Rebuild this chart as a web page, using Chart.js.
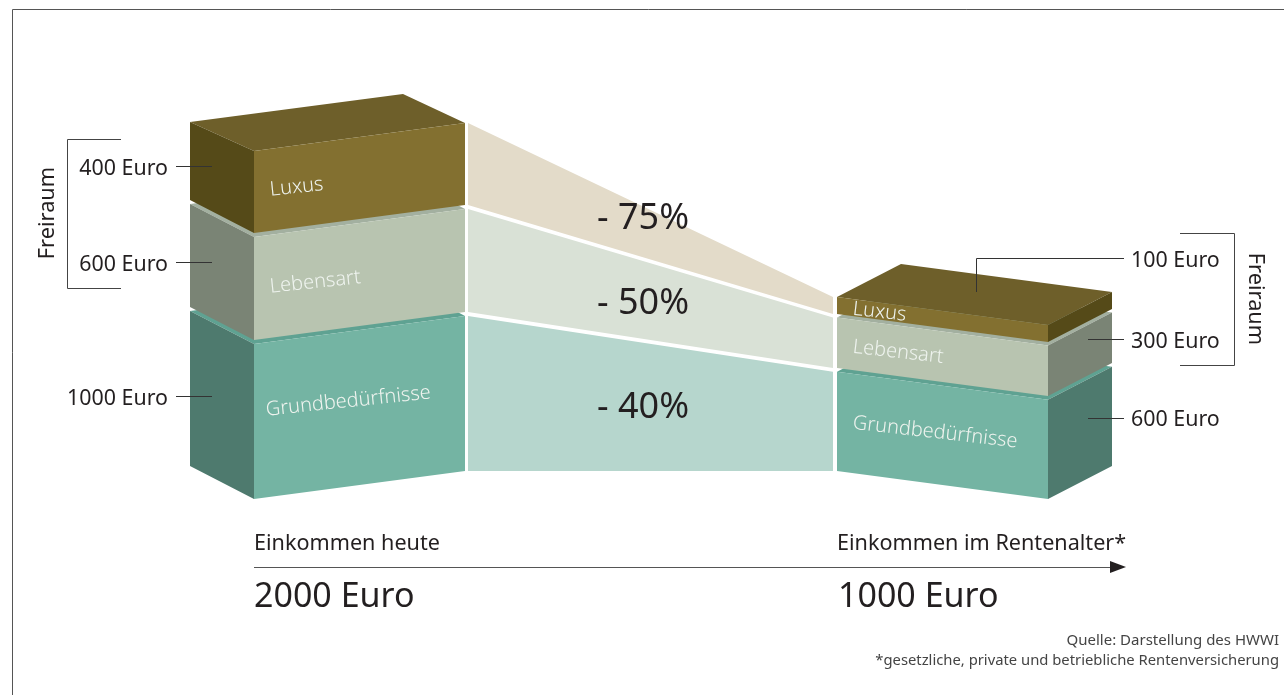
<!DOCTYPE html>
<html lang="de">
<head>
<meta charset="utf-8">
<title>Einkommen heute und im Rentenalter</title>
<script src="https://cdn.jsdelivr.net/npm/chart.js@4/dist/chart.umd.min.js"></script>
<style>
  html, body { margin: 0; background: #fff; }
  canvas { display: block; }
</style>
</head>
<body>
<canvas id="chart" width="1284" height="695"></canvas>
<script>
// Categories, top to bottom in the stack
const categories = ['Luxus', 'Lebensart', 'Grundbedürfnisse'];

// Amounts printed next to the blocks
const amountsToday = [400, 600, 1000];
const amountsRetired = [100, 300, 600];
const cuts = ['- 75%', '- 50%', '- 40%'];

// Band limits on the euro axis (the source is not quite to scale)
const bandTopsToday = [2000, 1506, 891];
const bandBottomsToday = [1529, 914, 0];
const bandTopsRetired = [1000, 882, 570];
const bandBottomsRetired = [902, 592, 0];

const frontColors = ['#837030', '#b8c4b0', '#74b4a3'];
const sideColors = ['#554a18', '#7a8475', '#4e7a6e'];
const topColors = ['#6e5f2a', '#a3b0a0', '#5fa292'];
const ribbonColors = ['#e3dbc9', '#d9e1d6', '#b6d6cd'];

const SKEW = 161;   // fall of a front face across its width, in euro units
const DROP = 190;   // rise from the front corner to the back corner

const blockToday = { edge: 465, face: 254, side: 190, far: 403 };
const blockRetired = { edge: 837, face: 1048, side: 1112, far: 901 };

function face(color, points) {
    return {
        data: points.concat([points[0]]),
        showLine: true,
        fill: 'shape',
        backgroundColor: color,
        borderWidth: 0,
        pointRadius: 0,
        tension: 0
    };
}

function addBlock(list, b, tops, bottoms, firstDrop) {
    for (let i = categories.length - 1; i >= 0; i--) {
        const t = tops[i], u = bottoms[i];
        const drop = i === 0 ? firstDrop : DROP;
        list.push(face(topColors[i], [
            { x: b.edge, y: t },
            { x: b.face, y: t - SKEW },
            { x: b.side, y: t - SKEW + drop },
            { x: b.far, y: t + drop }
        ]));
        list.push(face(sideColors[i], [
            { x: b.face, y: t - SKEW },
            { x: b.side, y: t - SKEW + drop },
            { x: b.side, y: u - SKEW + DROP },
            { x: b.face, y: u - SKEW }
        ]));
        list.push(face(frontColors[i], [
            { x: b.edge, y: t },
            { x: b.face, y: t - SKEW },
            { x: b.face, y: u - SKEW },
            { x: b.edge, y: u }
        ]));
    }
}

const datasets = [];
addBlock(datasets, blockToday, bandTopsToday, bandBottomsToday, 167);
addBlock(datasets, blockRetired, bandTopsRetired, bandBottomsRetired, DROP);
categories.forEach((c, i) => {
    datasets.push(face(ribbonColors[i], [
        { x: 468, y: bandTopsToday[i] },
        { x: 833, y: bandTopsRetired[i] },
        { x: 833, y: bandBottomsRetired[i] },
        { x: 468, y: bandBottomsToday[i] }
    ]));
});
// painter's order: later entries sit on top
datasets.forEach((d, i) => { d.order = datasets.length - i; });

const INK = '#231f20';
const BASE_FONT = '"Noto Sans", sans-serif';

function text(ctx, str, x, y, size, opts) {
    const o = opts || {};
    ctx.save();
    ctx.translate(x, y);
    if (o.rotate) ctx.rotate(o.rotate * Math.PI / 180);
    ctx.font = (o.weight || 400) + ' ' + size + 'px ' + BASE_FONT;
    ctx.fillStyle = o.color || INK;
    ctx.textAlign = o.align || 'left';
    ctx.textBaseline = 'middle';
    ctx.fillText(str, 0, 0);
    ctx.restore();
}

function path(ctx, pts, color, width) {
    ctx.save();
    ctx.strokeStyle = color;
    ctx.lineWidth = width;
    ctx.beginPath();
    pts.forEach((p, i) => i ? ctx.lineTo(p[0], p[1]) : ctx.moveTo(p[0], p[1]));
    ctx.stroke();
    ctx.restore();
}

const captions = {
    id: 'captions',
    afterDatasetsDraw(chart) {
        const ctx = chart.ctx;

        // frame
        path(ctx, [[12.5, 695], [12.5, 9.5], [1284, 9.5]], '#555', 1);

        // brackets and leaders
        path(ctx, [[121, 139.5], [67.5, 139.5], [67.5, 288.5], [121, 288.5]], '#444', 1);
        path(ctx, [[1180, 233.5], [1234.5, 233.5], [1234.5, 365.5], [1180, 365.5]], '#444', 1);
        path(ctx, [[176, 166.5], [212, 166.5]], '#333', 1);
        path(ctx, [[176, 262.5], [212, 262.5]], '#333', 1);
        path(ctx, [[176, 396.5], [212, 396.5]], '#333', 1);
        path(ctx, [[1124, 258.5], [976.5, 258.5], [976.5, 292]], '#333', 1);
        path(ctx, [[1088, 339.5], [1124, 339.5]], '#333', 1);
        path(ctx, [[1088, 418.5], [1124, 418.5]], '#333', 1);

        // income arrow
        path(ctx, [[254, 567.5], [1112, 567.5]], '#555', 1.2);
        ctx.fillStyle = INK;
        ctx.beginPath();
        ctx.moveTo(1126, 567);
        ctx.lineTo(1110, 561);
        ctx.lineTo(1110, 573);
        ctx.closePath();
        ctx.fill();

        // amounts
        [169, 265, 399].forEach((y, i) => text(ctx, amountsToday[i] + ' Euro', 168, y, 21.4, { align: 'right' }));
        [261, 342, 420].forEach((y, i) => text(ctx, amountsRetired[i] + ' Euro', 1131, y, 21.4));

        text(ctx, 'Freiraum', 48, 213, 21.8, { align: 'center', rotate: -90 });
        text(ctx, 'Freiraum', 1255, 299, 21.8, { align: 'center', rotate: 90 });

        // names on the front faces
        const white = '#eef3ee';
        [[270, 190], [270, 287], [266, 410]].forEach((p, i) =>
            text(ctx, categories[i], p[0], p[1], 20, { rotate: -6, color: white, weight: 300 }));
        [[853, 309], [853, 347], [853, 423]].forEach((p, i) =>
            text(ctx, categories[i], p[0], p[1], 20, { rotate: 6.5, color: white, weight: 300 }));

        [219, 304, 408].forEach((y, i) => text(ctx, cuts[i], 597, y, 36));

        text(ctx, 'Einkommen heute', 254, 544, 21.6);
        text(ctx, 'Einkommen im Rentenalter*', 837, 544, 21.6);
        text(ctx, '2000 Euro', 254, 597, 34);
        text(ctx, '1000 Euro', 838, 597, 34);

        text(ctx, 'Quelle: Darstellung des HWWI', 1279, 641, 15, { align: 'right', color: '#444' });
        text(ctx, '*gesetzliche, private und betriebliche Rentenversicherung', 1279, 661, 14.8, { align: 'right', color: '#444' });
    }
};

new Chart(document.getElementById('chart'), {
    type: 'scatter',
    data: { datasets: datasets },
    options: {
        responsive: false,
        animation: false,
        layout: { padding: 0 },
        scales: {
            x: { type: 'linear', min: 0, max: 1284, display: false },
            y: { type: 'linear', min: -1287.4, max: 2706.9, display: false }
        },
        plugins: {
            legend: { display: false },
            tooltip: { enabled: false },
            filler: { propagate: false }
        }
    },
    plugins: [captions]
});
</script>
</body>
</html>
